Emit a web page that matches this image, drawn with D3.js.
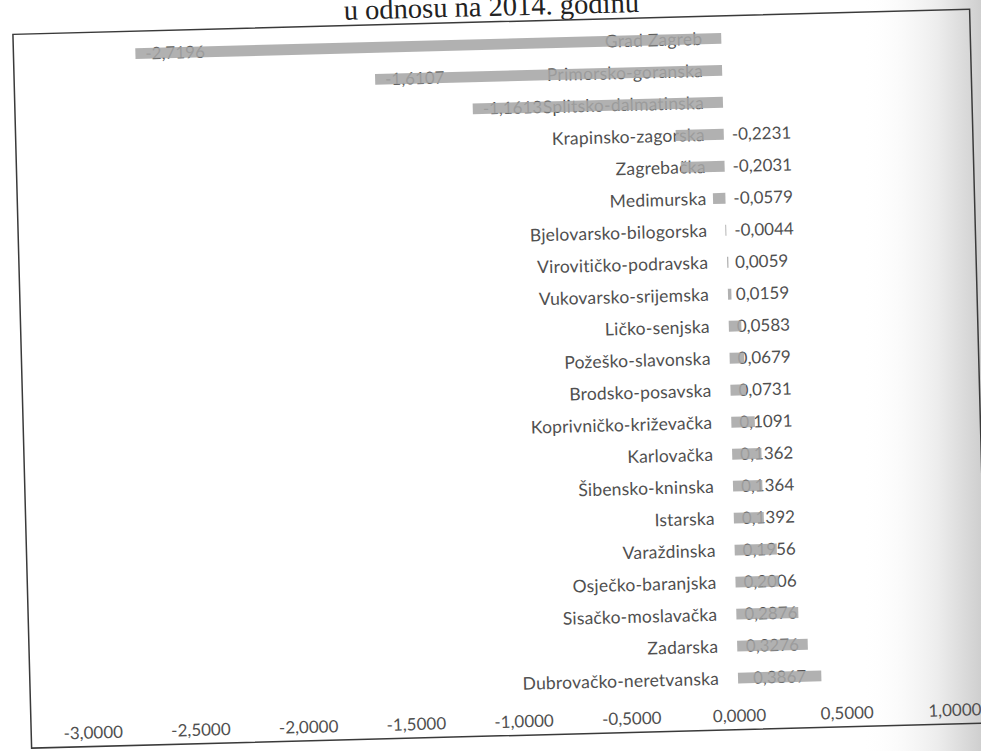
<!DOCTYPE html>
<html><head><meta charset="utf-8">
<script src="https://cdn.jsdelivr.net/npm/d3@7"></script>
<style>body{margin:0;background:#fff} svg{display:block}</style>
</head><body><svg id="c" width="981" height="751"></svg>
<script>
const categories = ["Grad Zagreb","Primorsko-goranska","Splitsko-dalmatinska","Krapinsko-zagorska","Zagrebačka","Medimurska","Bjelovarsko-bilogorska","Virovitičko-podravska","Vukovarsko-srijemska","Ličko-senjska","Požeško-slavonska","Brodsko-posavska","Koprivničko-križevačka","Karlovačka","Šibensko-kninska","Istarska","Varaždinska","Osječko-baranjska","Sisačko-moslavačka","Zadarska","Dubrovačko-neretvanska"];
const values = [-2.7196,-1.6107,-1.1613,-0.2231,-0.2031,-0.0579,-0.0044,0.0059,0.0159,0.0583,0.0679,0.0731,0.1091,0.1362,0.1364,0.1392,0.1956,0.2006,0.2876,0.3276,0.3867];
const xTicks = [-3,-2.5,-2,-1.5,-1,-0.5,0,0.5,1];
const titleText = "u odnosu na 2014. godinu";

const locale = d3.formatLocale({decimal:",", thousands:".", grouping:[3], currency:["","€"], minus:"-"});
const fmt = locale.format(".4f");
const data = categories.map((c,i)=>({cat:c, v:values[i]}));

const svg = d3.select("#c");
const defs = svg.append("defs");
const grad = defs.append("linearGradient").attr("id","gut").attr("x1","0").attr("x2","1").attr("y1","0").attr("y2","0");
grad.append("stop").attr("offset","0%").attr("stop-color","#ffffff").attr("stop-opacity",0);
grad.append("stop").attr("offset","65%").attr("stop-color","#ececec").attr("stop-opacity",1);
grad.append("stop").attr("offset","100%").attr("stop-color","#cfcfcf").attr("stop-opacity",1);
svg.append("rect").attr("x",860).attr("y",0).attr("width",121).attr("height",751).attr("fill","url(#gut)");

const g = svg.append("g").attr("transform","rotate(-1.5,490,375)");

const x = d3.scaleLinear().domain([-3,1]).range([83.5,945.5]);
const y = d3.scaleBand().domain(categories).range([28.5,700.5]).paddingInner(0.66).paddingOuter(0.33);
const font = "Lato, 'Open Sans', sans-serif";

// title (mostly cut off at the top)
g.append("text").attr("x",501).attr("y",16).attr("text-anchor","middle")
  .attr("font-family","'Liberation Serif','DejaVu Serif',serif").attr("font-size",28.5).attr("fill","#222")
  .text(titleText);

// chart frame
g.append("rect").attr("x",22).attr("y",22).attr("width",957).attr("height",714)
  .attr("fill","none").attr("stroke","#3a3a3a").attr("stroke-width",1.5);

// category labels
g.append("g").selectAll("text").data(data).join("text")
  .attr("x", x(0)-19).attr("y", d=>y(d.cat)+y.bandwidth()/2).attr("dy","0.35em")
  .attr("text-anchor","end").attr("font-family",font).attr("font-size",17.5).attr("letter-spacing",0.2).attr("fill","#505050")
  .text(d=>d.cat);

// value labels
const vl = g.append("g").selectAll("text").data(data).join("text")
  .attr("y", d=>y(d.cat)+y.bandwidth()/2).attr("dy","0.35em")
  .attr("font-family",font).attr("font-size",17).attr("fill","#505050")
  .text(d=>fmt(d.v));
vl.each(function(d){
  const w = this.getComputedTextLength();
  let px;
  if (d.v <= -1) px = x(d.v)+10;
  else px = Math.max(x(0)+8, (x(0)+x(d.v))/2 - w/2);
  d3.select(this).attr("x", px);
});

// bars (drawn over text, slightly translucent as in the print)
g.append("g").selectAll("rect").data(data).join("rect")
  .attr("x", d=>x(Math.min(0,d.v))).attr("width", d=>Math.abs(x(d.v)-x(0)))
  .attr("y", d=>y(d.cat)).attr("height", y.bandwidth())
  .attr("fill","#a6a6a6").attr("fill-opacity",0.88);

// x axis (labels only)
const ax = g.append("g").attr("transform","translate(0,716)")
  .call(d3.axisBottom(x).tickValues(xTicks).tickFormat(fmt).tickSize(0).tickPadding(0));
ax.select(".domain").remove();
ax.selectAll("text").attr("font-family",font).attr("font-size",17).attr("fill","#505050");
</script></body></html>
